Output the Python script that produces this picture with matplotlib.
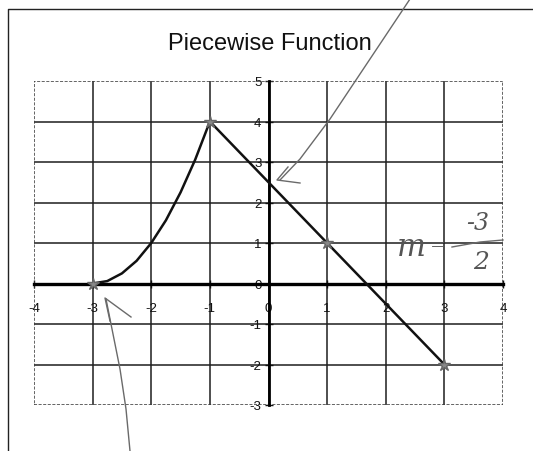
import matplotlib
matplotlib.use("Agg")
import matplotlib.pyplot as plt
from matplotlib.lines import Line2D
from matplotlib.patches import Rectangle

plt.rcParams['font.family'] = ['Liberation Sans', 'DejaVu Sans']

# Piece 1: curved rise from (-3, 0) to (-1, 4)
curve_x = [-3, -2.75, -2.5, -2.25, -2, -1.75, -1.5, -1.25, -1]
curve_y = [0, 0.06, 0.25, 0.56, 1, 1.56, 2.25, 3.06, 4]
# Piece 2: straight line from (-1, 4) to (3, -2)
line_x = [-1, 1, 3]
line_y = [4, 1, -2]
# Plotted points
point_x = [-3, -1, 1, 3]
point_y = [0, 4, 1, -2]

x_ticks = [-4, -3, -2, -1, 0, 1, 2, 3, 4]
y_ticks = [-3, -2, -1, 0, 1, 2, 3, 4, 5]
title = "Piecewise Function"

W, H = 533, 452
fig = plt.figure(figsize=(W / 100, H / 100), dpi=100)
fig.patch.set_facecolor("white")


def fx(x):
    return x / W


def fy(y):
    return 1 - y / H


# outer chart frame (left and top edges visible)
fig.add_artist(Line2D([fx(8), fx(8), fx(533)], [fy(452), fy(10), fy(10)],
                      transform=fig.transFigure, color="#222222", lw=1.0))

ax = fig.add_axes([fx(34), fy(406), fx(503) - fx(34), fy(82) - fy(406)])
ax.set_xlim(x_ticks[0], x_ticks[-1])
ax.set_ylim(y_ticks[0], y_ticks[-1])

# interior gridlines
for xv in x_ticks[1:-1]:
    ax.axvline(xv, color="#1e1e1e", lw=1.1, zorder=1)
for yv in y_ticks[1:-1]:
    ax.axhline(yv, color="#1e1e1e", lw=1.1, zorder=1)

# dotted plot-area border
ax.add_patch(Rectangle((0, 0), 1, 1, transform=ax.transAxes, fill=False,
                       edgecolor="#3a3a3a", lw=1.1, ls=(0, (2, 1)), zorder=2))

for s in ("top", "right"):
    ax.spines[s].set_visible(False)
ax.spines["left"].set_position(("data", 0))
ax.spines["bottom"].set_position(("data", 0))
ax.spines["left"].set_linewidth(2.0)
ax.spines["bottom"].set_linewidth(2.4)
ax.spines["left"].set_zorder(3)
ax.spines["bottom"].set_zorder(3)

ax.set_xticks(x_ticks)
ax.set_yticks(y_ticks)
ax.set_xticklabels([str(v) for v in x_ticks])
ax.set_yticklabels([str(v) for v in y_ticks])
ax.tick_params(axis="x", direction="inout", length=6, width=1, pad=10,
               labelsize=9.5, colors="#111111")
ax.tick_params(axis="y", direction="inout", length=6, width=1, pad=2,
               labelsize=9.5, colors="#111111")

ax.plot(curve_x, curve_y, color="#111111", lw=1.8, zorder=4)
ax.plot(line_x, line_y, color="#111111", lw=1.8, zorder=4)
ax.plot(point_x, point_y, ls="none", marker="*", ms=9, color="#888888",
        markeredgecolor="#666666", zorder=5)

fig.text(fx(270), fy(44), title, ha="center", va="center", fontsize=17,
         color="#111111")

# pencil notes
pen = dict(transform=fig.transFigure, color="#6a6a6a", lw=1.0)
fig.add_artist(Line2D([fx(p) for p in (410, 390, 370, 330, 300, 280)],
                      [fy(p) for p in (0, 30, 60, 120, 160, 181)], **pen))
fig.add_artist(Line2D([fx(300), fx(277), fx(288)],
                      [fy(184), fy(181), fy(168)], **pen))
fig.add_artist(Line2D([fx(p) for p in (130, 126, 120, 112, 106)],
                      [fy(p) for p in (452, 410, 370, 330, 300)], **pen))
fig.add_artist(Line2D([fx(131), fx(105), fx(110)],
                      [fy(318), fy(299), fy(322)], **pen))

note = dict(color="#555555", family="DejaVu Serif", fontstyle="italic",
            ha="center", va="center")
fig.text(fx(411), fy(248), "m", fontsize=22, **note)
fig.text(fx(438), fy(246), "=", fontsize=14, **note)
fig.text(fx(478), fy(223), "-3", fontsize=17, **note)
fig.add_artist(Line2D([fx(452), fx(480), fx(503)], [fy(248), fy(243), fy(241)], **pen))
fig.text(fx(481), fy(263), "2", fontsize=18, **note)

fig.savefig("out.png", dpi=100, facecolor="white")
